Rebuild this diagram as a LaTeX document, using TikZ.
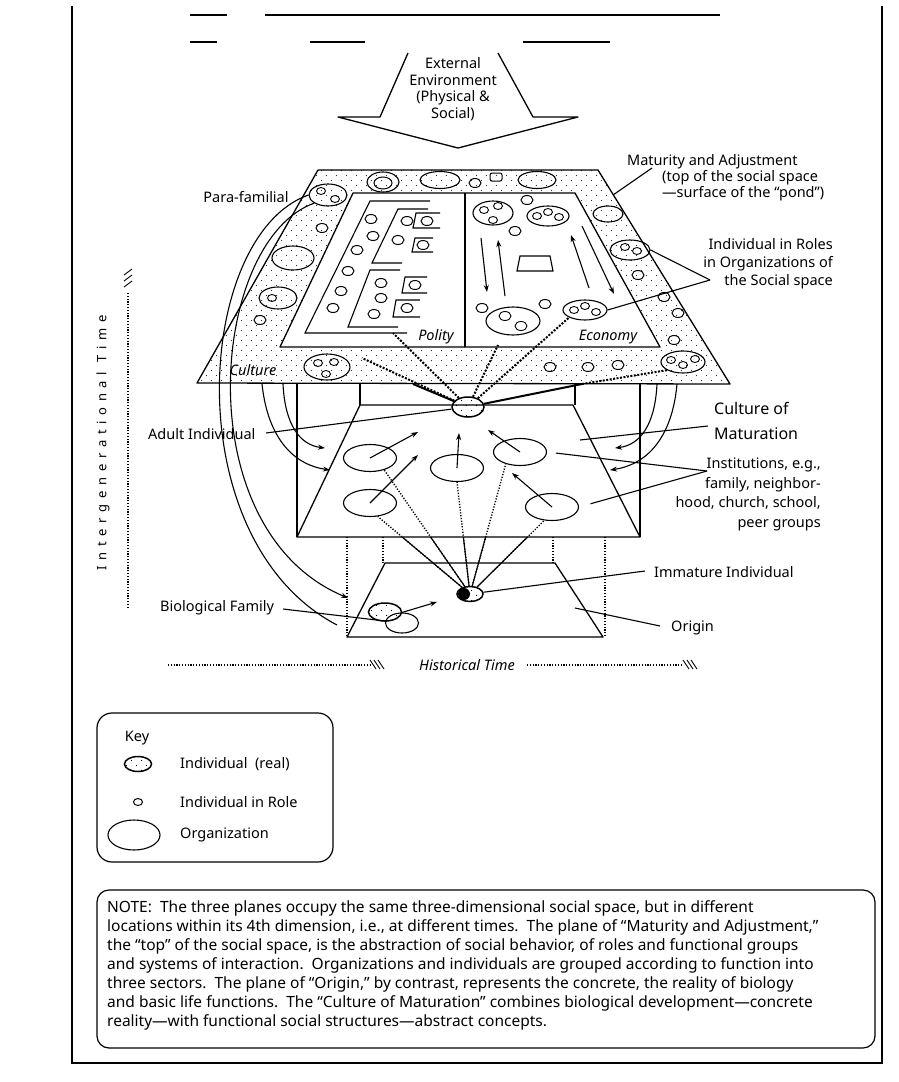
\documentclass[tikz,border=0pt]{standalone}
\usepackage{fontspec}
\setmainfont{Noto Sans}
\usetikzlibrary{shapes.geometric}
\usetikzlibrary{positioning}
\usetikzlibrary{arrows.meta}
\usetikzlibrary{patterns}
\pgfdeclarepatternformonly{stipple}{\pgfpoint{-1pt}{-1pt}}{\pgfpoint{11pt}{11pt}}{\pgfpoint{10pt}{10pt}}{%
  \pgfpathcircle{\pgfpoint{1.5pt}{1.5pt}}{0.65pt}%
  \pgfpathcircle{\pgfpoint{6.5pt}{6.5pt}}{0.65pt}%
  \pgfusepath{fill}}
\tikzset{
    planeln/.style = {line width=1.3pt, black, line join=round},
    stripfill/.style = {pattern=stipple, pattern color=black!80},
    orgnode/.style = {ellipse, draw=black, line width=1.1pt, minimum width=53pt, minimum height=27pt, inner sep=0pt},
    grpnode/.style = {ellipse, draw=black, line width=1.1pt, inner sep=0pt},
    rolenode/.style = {ellipse, draw=black, line width=1pt, minimum width=12pt, minimum height=9pt, inner sep=0pt},
    minirole/.style = {ellipse, draw=black, line width=0.9pt, minimum width=9pt, minimum height=7pt, inner sep=0pt},
    realnode/.style = {ellipse, draw=black, line width=1.5pt, pattern=stipple, inner sep=0pt},
    lbl/.style = {font=\fontsize{14.5}{17}\selectfont, inner sep=0pt},
    ilbl/.style = {font=\fontsize{14.5}{17}\selectfont\itshape, inner sep=0pt},
    edgen/.style = {-, line width=1.1pt, black},
    edgea/.style = {-{Stealth[length=7pt,width=5pt]}, line width=1.1pt, black},
    edged/.style = {-, line width=1.4pt, black, dash pattern=on 1.2pt off 1.6pt},
    edgeh/.style = {-, line width=2pt, black, dash pattern=on 2pt off 1.5pt},
    edgeb/.style = {-, line width=2pt, black},
}
\begin{document}
\begin{tikzpicture}[x=1pt, y=-1pt]
  \useasboundingbox (0,0) rectangle (899,1082);
  \fill[white] (0,0) rectangle (899,1082);

  % page frame
  \draw[line width=1.2pt] (72,6) -- (72,1063) -- (882,1063) -- (882,6);
  \draw[line width=1.2pt] (190,15) -- (227,15) (265,15) -- (720,15);
  \draw[line width=1.2pt] (190,42) -- (217,42) (310,42) -- (365,42) (523,42) -- (610,42);

  % external environment
  \draw[planeln] (408,53) -- (380,117) -- (338,117) -- (458,148) -- (578,117) -- (533,117) -- (498,53);
  \node[lbl, align=center, font=\fontsize{14.5}{16.5}\selectfont] (extenv) at (453,89) {External\\Environment\\(Physical \&\\Social)};

  % plane of maturity and adjustment
  \coordinate (tA) at (318,170);
  \coordinate (tB) at (598,170);
  \coordinate (tC) at (730,384);
  \coordinate (tD) at (197,383);
  \coordinate (iA) at (353,193);
  \coordinate (iB) at (575,193);
  \coordinate (iC) at (660,347);
  \coordinate (iD) at (280,347);
  \fill[stripfill] (tA) -- (tB) -- (tC) -- (tD) -- cycle;
  \fill[white] (iA) -- (iB) -- (iC) -- (iD) -- cycle;
  \draw[planeln] (tA) -- (tB) -- (tC) -- (tD) -- cycle;
  \draw[planeln] (iA) -- (iB) -- (iC) -- (iD) -- cycle;
  \draw[edgen] (465,193) -- (465,347);

  % top strip
  \node[grpnode, minimum width=32pt, minimum height=20pt] (ts1) at (383,182) {};
  \node[rolenode, minimum width=18pt, minimum height=12pt] (ts1a) at (383,183) {};
  \node[grpnode, minimum width=40pt, minimum height=17pt] (ts2) at (440,180) {};
  \node[rolenode] (ts3) at (475,183) {};
  \node[draw, line width=1pt, rounded corners=2pt, minimum width=12pt, minimum height=8pt, inner sep=0pt] (ts4) at (496,177) {};
  \node[grpnode, minimum width=38pt, minimum height=17pt] (ts5) at (537,180) {};

  % left strip
  \node[grpnode, minimum width=38pt, minimum height=22pt] (para) at (328,195) {};
  \node[minirole] (para1) at (321,191) {};
  \node[minirole] (para2) at (335,199) {};
  \node[rolenode] (ls1) at (322,228) {};
  \node[grpnode, minimum width=42pt, minimum height=24pt] (ls2) at (293,258) {};
  \node[grpnode, minimum width=38pt, minimum height=22pt] (ls3) at (278,298) {};
  \node[minirole] (ls3a) at (272,298) {};
  \node[rolenode] (ls4) at (260,320) {};

  % right strip
  \node[grpnode, minimum width=30pt, minimum height=16pt] (rs0) at (608,214) {};
  \node[grpnode, minimum width=40pt, minimum height=20pt] (rs1) at (630,250) {};
  \node[minirole] (rs1a) at (625,247) {};
  \node[minirole] (rs1b) at (637,251) {};
  \node[rolenode] (rs2) at (638,275) {};
  \node[rolenode] (rs3) at (664,297) {};
  \node[rolenode] (rs4) at (678,313) {};
  \node[rolenode] (rs5) at (674,340) {};
  \node[grpnode, minimum width=44pt, minimum height=22pt] (rs6) at (683,362) {};
  \node[minirole] (rs6a) at (671,360) {};
  \node[minirole] (rs6b) at (683,365) {};
  \node[minirole] (rs6c) at (695,359) {};

  % bottom strip
  \node[ilbl] (cult) at (253,370) {Culture};
  \node[grpnode, minimum width=46pt, minimum height=26pt] (bs1) at (327,367) {};
  \node[minirole] (bs1a) at (318,363) {};
  \node[minirole] (bs1b) at (334,362) {};
  \node[minirole] (bs1c) at (326,374) {};
  \node[rolenode] (bs2) at (550,367) {};
  \node[rolenode] (bs3) at (588,367) {};
  \node[rolenode] (bs4) at (618,365) {};

  % polity sector
  \draw[edgen] (430,201) -- (370,201) -- (305,333) -- (407,333);
  \draw[edgen] (428,209) -- (398,209) -- (372,263) -- (402,263);
  \draw[edgen] (400,270) -- (370,270) -- (348,327) -- (398,327);
  \draw[edgen] (440,213) -- (416,213) -- (413,228) -- (440,228);
  \draw[edgen] (433,238) -- (415,238) -- (412,252) -- (433,252);
  \draw[edgen] (427,277) -- (405,277) -- (402,293) -- (427,293);
  \draw[edgen] (420,300) -- (396,300) -- (393,317) -- (420,317);
  \node[rolenode] (pb1) at (427,221) {};
  \node[rolenode] (pb2) at (423,245) {};
  \node[rolenode] (pb3) at (415,285) {};
  \node[rolenode] (pb4) at (407,308) {};
  \node[rolenode] (pr1) at (371,219) {};
  \node[rolenode] (pr2) at (373,236) {};
  \node[rolenode] (pr3) at (357,250) {};
  \node[rolenode] (pr4) at (348,271) {};
  \node[rolenode] (pr5) at (341,291) {};
  \node[rolenode] (pr6) at (333,308) {};
  \node[rolenode] (pr7) at (407,221) {};
  \node[rolenode] (pr8) at (398,240) {};
  \node[rolenode] (pr9) at (381,283) {};
  \node[rolenode] (pr10) at (381,298) {};
  \node[rolenode] (pr11) at (374,314) {};
  \node[ilbl] (polity) at (436,337) {Polity};

  % economy sector
  \node[grpnode, minimum width=40pt, minimum height=24pt] (eo1) at (493,213) {};
  \node[minirole] (eo1a) at (484,210) {};
  \node[minirole] (eo1b) at (498,206) {};
  \node[minirole] (eo1c) at (493,220) {};
  \node[grpnode, minimum width=42pt, minimum height=20pt] (eo2) at (548,216) {};
  \node[minirole] (eo2a) at (537,216) {};
  \node[minirole] (eo2b) at (548,212) {};
  \node[minirole] (eo2c) at (559,217) {};
  \node[rolenode] (er1) at (527,200) {};
  \node[rolenode] (er2) at (515,231) {};
  \draw[edgen] (520,256) -- (550,256) -- (553,271) -- (517,271) -- cycle;
  \coordinate (ea1) at (481,238);
  \coordinate (ea2) at (487,292);
  \coordinate (ea3) at (505,296);
  \coordinate (ea4) at (498,240);
  \coordinate (ea5) at (589,288);
  \coordinate (ea6) at (571,235);
  \coordinate (ea7) at (582,226);
  \coordinate (ea8) at (614,294);
  \draw[edgea] (ea1) -- (ea2);
  \draw[edgea] (ea3) -- (ea4);
  \draw[edgea] (ea5) -- (ea6);
  \draw[edgea] (ea7) -- (ea8);
  \node[rolenode] (er3) at (482,308) {};
  \node[rolenode] (er4) at (545,304) {};
  \node[grpnode, minimum width=54pt, minimum height=28pt] (eo3) at (513,321) {};
  \node[minirole, minimum width=12pt, minimum height=9pt] (eo3a) at (505,316) {};
  \node[minirole, minimum width=12pt, minimum height=9pt] (eo3b) at (521,326) {};
  \node[grpnode, minimum width=44pt, minimum height=20pt] (eo4) at (585,310) {};
  \node[minirole] (eo4a) at (574,310) {};
  \node[minirole] (eo4b) at (585,306) {};
  \node[minirole] (eo4c) at (596,312) {};
  \node[ilbl] (econ) at (608,337) {Economy};

  % culture of maturation
  \draw[planeln] (360,405) -- (573,405) -- (640,537) -- (297,537) -- cycle;
  \draw[edgen] (297,383) -- (297,537);
  \draw[edgen] (640,383) -- (640,537);
  \draw[edgen] (360,383) -- (360,405);
  \draw[edgen] (575,383) -- (575,405);
  \node[orgnode] (o1) at (370,458) {};
  \node[orgnode] (o2) at (370,503) {};
  \node[orgnode] (o3) at (457,468) {};
  \node[orgnode] (o4) at (520,452) {};
  \node[orgnode] (o5) at (552,507) {};
  \coordinate (h1) at (418,432);
  \coordinate (h2) at (418,455);
  \coordinate (h3) at (459,433);
  \coordinate (h4) at (488,430);
  \coordinate (h5) at (512,473);
  \draw[edgea] (o1.center) -- (h1);
  \draw[edgea] (o2.center) -- (h2);
  \draw[edgea] (o3.center) -- (h3);
  \draw[edgea] (o4.center) -- (h4);
  \draw[edgea] (o5.center) -- (h5);

  % adult individual
  \node[realnode, minimum width=32pt, minimum height=20pt] (adult) at (468,407) {};
  \coordinate (vl) at (413,384);
  \coordinate (vr) at (582,384);
  \coordinate (pcorner) at (393,333);
  \coordinate (hc1) at (362,358);
  \coordinate (hc2) at (498,345);
  \draw[edgeb] (vl) -- (adult) -- (vr);
  \draw[edgeh] (adult) -- (pcorner);
  \draw[edgeh] (adult) -- (hc1);
  \draw[edgeh] (adult) -- (hc2);
  \draw[edgeh] (adult) -- (eo4.south west);
  \draw[edgeh] (vr) -- (rs6.south west);

  % origin
  \draw[planeln] (385,563) -- (555,563) -- (603,637) -- (347,637) -- cycle;
  \draw[edged] (347,537) -- (347,637);
  \draw[edged] (383,537) -- (383,563);
  \draw[edged] (553,537) -- (553,563);
  \draw[edged] (605,537) -- (605,637);
  \node[realnode, minimum width=26pt, minimum height=15pt] (immature) at (470,594) {};
  \fill (464,594) ellipse (6pt and 6pt);
  \draw[edged] (immature) -- (o2.-60);
  \draw[edged] (immature) -- (o1.-40);
  \draw[edged] (immature) -- (o3.south);
  \draw[edged] (immature) -- (o4.-140);
  \draw[edged] (immature) -- (o5.-120);
  \begin{scope}
    \clip (0,537) rectangle (899,700);
    \draw[edgen] (immature) -- (o2.-60);
    \draw[edgen] (immature) -- (o1.-40);
    \draw[edgen] (immature) -- (o3.south);
    \draw[edgen] (immature) -- (o4.-140);
    \draw[edgen] (immature) -- (o5.-120);
  \end{scope}
  \node[realnode, minimum width=33pt, minimum height=18pt] (bio1) at (385,612) {};
  \node[grpnode, minimum width=33pt, minimum height=20pt] (bio2) at (402,623) {};
  \coordinate (bfa) at (437,602);
  \draw[edgea] (bio2.north) -- (bfa);

  % para-familial and cultural links
  \coordinate (pf1) at (337,625);
  \coordinate (pf2) at (348,598);
  \draw[edgen] (para.west) .. controls (195,235) and (175,540) .. (pf1);
  \draw[edgea] (para.south west) .. controls (210,240) and (185,530) .. (pf2);
  \coordinate (cl1) at (262,384);
  \coordinate (cl2) at (283,384);
  \coordinate (cl3) at (330,470);
  \coordinate (cl4) at (325,448);
  \draw[edgea] (cl1) .. controls (268,440) and (295,465) .. (cl3);
  \draw[edgea] (cl2) .. controls (285,425) and (300,445) .. (cl4);
  \coordinate (cr1) at (677,384);
  \coordinate (cr2) at (657,384);
  \coordinate (cr3) at (610,470);
  \coordinate (cr4) at (615,448);
  \draw[edgea] (cr1) .. controls (672,440) and (645,465) .. (cr3);
  \draw[edgea] (cr2) .. controls (655,425) and (640,445) .. (cr4);

  % labels
  \node[lbl] (paralbl) at (246,197) {Para-familial};
  \node[lbl, anchor=north west, align=left, font=\fontsize{14.5}{16}\selectfont] (matlbl) at (627,154) {Maturity and Adjustment\\\hspace*{35pt}(top of the social space\\\hspace*{35pt}---surface of the ``pond'')};
  \coordinate (matl) at (652,168);
  \coordinate (matp) at (613,195);
  \draw[edgen] (matl) -- (matp);
  \node[lbl, anchor=north east, align=right, font=\fontsize{14.5}{18}\selectfont] (rolelbl) at (833,238) {Individual in Roles\\in Organizations of\\the Social space};
  \coordinate (rolep) at (710,280);
  \draw[edgen] (rolep) -- (rs1.east);
  \draw[edgen] (rolep) -- (eo4.east);
  \node[lbl, anchor=north west, align=left, font=\fontsize{16}{25}\selectfont] (cmlbl) at (714,402) {Culture of\\Maturation};
  \coordinate (cml) at (708,426);
  \coordinate (cmp) at (580,440);
  \draw[edgen] (cml) -- (cmp);
  \node[lbl, anchor=north east, align=right, font=\fontsize{14.5}{19.5}\selectfont] (instlbl) at (821,458) {Institutions, e.g.,\\family, neighbor-\\hood, church, school,\\peer groups};
  \coordinate (instp) at (707,471);
  \draw[edgen, shorten >=9pt] (instp) -- (o4.east);
  \draw[edgen, shorten >=12pt] (instp) -- (o5.east);
  \node[lbl, anchor=west] (adultlbl) at (148,434) {Adult Individual};
  \coordinate (adl) at (266,433);
  \draw[edgen] (adl) -- (adult);
  \node[lbl, anchor=west] (immlbl) at (654,572) {Immature Individual};
  \coordinate (iml) at (645,571);
  \draw[edgen] (iml) -- (immature);
  \node[lbl, anchor=west] (origlbl) at (671,628) {Origin};
  \coordinate (orl) at (660,626);
  \coordinate (orp) at (575,608);
  \draw[edgen] (orl) -- (orp);
  \node[lbl, anchor=west] (biolbl) at (160,608) {Biological Family};
  \coordinate (bil) at (283,609);
  \draw[edgen] (bil) -- (bio2);

  % time axes
  \node[lbl, rotate=90, font=\fontsize{13}{15}\selectfont\addfontfeature{LetterSpace=44}] (intergen) at (103,443) {Intergenerational Time};
  \draw[edged] (128,293) -- (128,608);
  \draw[line width=0.9pt] (124,287) -- (132,281) (124,281) -- (132,275) (124,275) -- (132,269);
  \node[ilbl] (histlbl) at (467,665) {Historical Time};
  \draw[edged] (168,665) -- (370,665);
  \draw[line width=0.9pt] (370,660) -- (376,669) (374,660) -- (380,669) (378,660) -- (384,669);
  \draw[edged] (527,665) -- (682,665);
  \draw[line width=0.9pt] (683,660) -- (689,669) (687,660) -- (693,669) (691,660) -- (697,669);

  % key
  \draw[line width=1.2pt, rounded corners=15pt] (97,713) rectangle (333,862);
  \node[lbl] (keylbl) at (137,738) {Key};
  \node[realnode, minimum width=27pt, minimum height=15pt] (keyreal) at (138,764) {};
  \node[rolenode, minimum width=9pt, minimum height=7pt] (keyrole) at (138,802) {};
  \node[grpnode, minimum width=52pt, minimum height=30pt] (keyorg) at (134,835) {};
  \node[lbl, anchor=west] (keyrealt) at (180,764) {Individual\ \ (real)};
  \node[lbl, anchor=west] (keyrolet) at (180,802) {Individual in Role};
  \node[lbl, anchor=west] (keyorgt) at (180,835) {Organization};

  % note
  \draw[line width=1.2pt, rounded corners=12pt] (97,890) rectangle (875,1048);
  \node[anchor=north west, align=left, inner sep=0pt, font=\fontsize{15.5}{19}\selectfont] (note) at (107,900) {%
NOTE:\ \ The three planes occupy the same three-dimensional social space, but in different\\
locations within its 4th dimension, i.e., at different times.\ \ The plane of ``Maturity and Adjustment,''\\
the ``top'' of the social space, is the abstraction of social behavior, of roles and functional groups\\
and systems of interaction.\ \ Organizations and individuals are grouped according to function into\\
three sectors.\ \ The plane of ``Origin,'' by contrast, represents\ the concrete, the reality of biology\\
and basic life functions.\ \ The ``Culture of Maturation'' combines biological development---concrete\\
reality---with functional social structures---abstract concepts.};
\end{tikzpicture}
\end{document}
